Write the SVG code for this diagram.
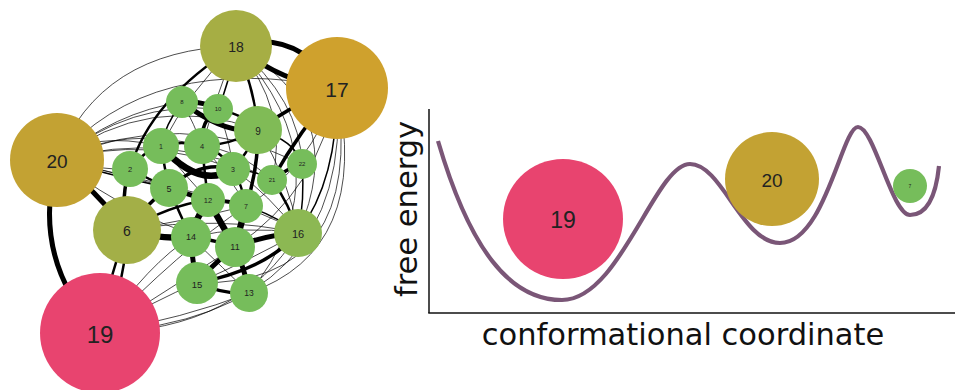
<svg xmlns="http://www.w3.org/2000/svg" width="955" height="390" viewBox="0 0 955 390">
  <style>
    .edge { fill: none; stroke: #000; stroke-linecap: round; }
    .w1 { stroke-width: 0.7; }
    .w2 { stroke-width: 1.5; }
    .w3 { stroke-width: 2.5; }
    .w4 { stroke-width: 3.5; }
    .w5 { stroke-width: 5; }
    .w6 { stroke-width: 6.5; }
    .g { fill: #76bd5b; }
    .lbl { font-family: "Liberation Sans", Arial, sans-serif; fill: #222; text-anchor: middle; dominant-baseline: central; }
    .axis { stroke: #111; stroke-width: 1.5; fill: none; }
    .axtxt { font-family: "DejaVu Sans", sans-serif; font-size: 30.5px; fill: #111; text-anchor: middle; }
  </style>

  <!-- state network: edges -->
  <g id="edges">
    <!-- weak transitions -->
    <path class="edge w1" d="M57,160 Q100,50 236,46"/>
    <path class="edge w1" d="M57,160 Q150,50 337,88"/>
    <path class="edge w1" d="M57,160 Q150,90 258,130"/>
    <path class="edge w1" d="M57,160 Q130,100 218,109"/>
    <path class="edge w1" d="M57,160 Q115,112 182,102"/>
    <path class="edge w1" d="M57,160 Q125,125 202,146"/>
    <path class="edge w1" d="M57,160 Q150,135 233,169"/>
    <path class="edge w1" d="M57,160 Q180,105 302,164"/>
    <path class="edge w1" d="M57,160 Q170,128 272,180"/>
    <path class="edge w1" d="M57,160 Q130,175 208,200"/>
    <path class="edge w1" d="M57,160 Q150,180 246,206"/>
    <path class="edge w1" d="M57,160 Q140,225 235,247"/>
    <path class="edge w1" d="M57,160 Q90,130 161,146"/>
    <path class="edge w1" d="M57,160 Q95,170 130,169"/>
    <path class="edge w1" d="M337,88 Q372,250 249,293"/>
    <path class="edge w1" d="M337,88 Q366,285 197,283"/>
    <path class="edge w1" d="M337,88 Q355,315 100,333"/>
    <path class="edge w1" d="M337,88 Q310,170 246,206"/>
    <path class="edge w1" d="M337,88 Q320,190 235,247"/>
    <path class="edge w1" d="M236,46 Q352,110 298,233"/>
    <path class="edge w1" d="M236,46 Q350,170 249,293"/>
    <path class="edge w1" d="M236,46 Q300,100 302,164"/>
    <path class="edge w1" d="M236,46 Q290,110 272,180"/>
    <path class="edge w1" d="M236,46 Q215,100 202,146"/>
    <path class="edge w1" d="M236,46 Q190,90 161,146"/>
    <path class="edge w1" d="M100,333 Q240,330 298,233"/>
    <path class="edge w1" d="M100,333 Q185,318 249,293"/>
    <path class="edge w1" d="M100,333 Q175,285 235,247"/>
    <path class="edge w1" d="M100,333 Q150,262 191,237"/>
    <path class="edge w1" d="M100,333 Q155,300 197,283"/>
    <path class="edge w1" d="M100,333 Q180,250 246,206"/>
    <path class="edge w1" d="M127,230 Q220,215 298,233"/>
    <path class="edge w1" d="M127,230 Q190,220 246,206"/>
    <path class="edge w1" d="M161,146 Q185,175 208,200"/>
    <path class="edge w1" d="M202,146 Q230,175 246,206"/>
    <path class="edge w1" d="M202,146 Q240,150 272,180"/>
    <path class="edge w1" d="M218,109 Q230,140 233,169"/>
    <path class="edge w1" d="M258,130 Q290,180 298,233"/>
    <path class="edge w1" d="M233,169 Q270,195 298,233"/>
    <path class="edge w1" d="M208,200 Q255,205 298,233"/>
    <path class="edge w1" d="M191,237 Q245,225 298,233"/>
    <path class="edge w1" d="M191,237 Q225,270 249,293"/>
    <path class="edge w1" d="M197,283 Q250,260 298,233"/>
    <path class="edge w1" d="M130,169 Q170,190 208,200"/>
    <path class="edge w1" d="M182,102 Q195,125 202,146"/>

    <!-- moderate transitions -->
    <path class="edge w2" d="M182,102 Q165,125 161,146"/>
    <path class="edge w2" d="M236,46 Q230,80 218,109"/>
    <path class="edge w2" d="M57,160 Q110,175 169,188"/>
    <path class="edge w2" d="M258,130 Q295,140 302,164"/>
    <path class="edge w2" d="M233,169 Q255,170 272,180"/>
    <path class="edge w2" d="M246,206 Q275,215 298,233"/>
    <path class="edge w2" d="M302,164 Q305,200 298,233"/>
    <path class="edge w2" d="M337,88 Q338,180 298,233"/>

    <path class="edge w3" d="M130,169 Q150,100 236,46"/>
    <path class="edge w3" d="M127,230 Q108,280 100,333"/>
    <path class="edge w3" d="M127,230 Q125,290 100,333"/>
    <path class="edge w3" d="M236,46 Q255,90 258,130"/>
    <path class="edge w3" d="M202,146 Q230,145 258,130"/>
    <path class="edge w3" d="M130,169 Q145,150 161,146"/>
    <path class="edge w3" d="M130,169 Q150,180 169,188"/>
    <path class="edge w3" d="M161,146 Q165,170 169,188"/>
    <path class="edge w3" d="M161,146 Q182,140 202,146"/>
    <path class="edge w3" d="M202,146 Q220,150 233,169"/>
    <path class="edge w3" d="M202,146 Q205,175 208,200"/>
    <path class="edge w3" d="M218,109 Q245,115 258,130"/>
    <path class="edge w3" d="M258,130 Q250,150 233,169"/>
    <path class="edge w3" d="M272,180 Q290,205 298,233"/>
    <path class="edge w3" d="M233,169 Q242,185 246,206"/>
    <path class="edge w3" d="M127,230 Q170,205 208,200"/>
    <path class="edge w3" d="M169,188 Q180,215 191,237"/>

    <!-- strong transitions -->
    <path class="edge w4" d="M258,130 Q258,170 246,206"/>
    <path class="edge w4" d="M258,130 Q300,100 337,88"/>
    <path class="edge w4" d="M337,88 Q300,130 272,180"/>
    <path class="edge w4" d="M272,180 Q288,168 302,164"/>
    <path class="edge w4" d="M127,230 Q150,200 169,188"/>
    <path class="edge w4" d="M127,230 Q120,195 130,169"/>
    <path class="edge w4" d="M197,283 Q225,295 249,293"/>
    <path class="edge w4" d="M208,200 Q230,200 246,206"/>
    <path class="edge w4" d="M191,237 Q215,240 235,247"/>
    <path class="edge w4" d="M218,109 Q200,120 202,146"/>
    <path class="edge w4" d="M298,233 Q265,270 197,283"/>
    <path class="edge w4" d="M169,188 Q200,160 233,169"/>

    <path class="edge w5" d="M182,102 Q200,100 218,109"/>
    <path class="edge w5" d="M236,46 Q295,28 337,88"/>
    <path class="edge w5" d="M236,46 Q285,85 337,88"/>
    <path class="edge w5" d="M57,160 Q30,260 100,333"/>
    <path class="edge w5" d="M57,160 Q95,190 127,230"/>
    <path class="edge w5" d="M182,102 Q225,135 258,130"/>
    <path class="edge w5" d="M169,188 Q190,195 208,200"/>
    <path class="edge w5" d="M235,247 Q265,235 298,233"/>
    <path class="edge w5" d="M235,247 Q245,270 249,293"/>
    <path class="edge w5" d="M191,237 Q192,262 197,283"/>
    <path class="edge w5" d="M197,283 Q215,262 235,247"/>

    <path class="edge w6" d="M161,146 Q200,190 233,169"/>
    <path class="edge w6" d="M127,230 Q160,240 191,237"/>
    <path class="edge w6" d="M208,200 Q222,225 235,247"/>
    <path class="edge w6" d="M208,200 Q195,220 191,237"/>
    <path class="edge w6" d="M246,206 Q240,228 235,247"/>
  </g>

  <!-- state network: nodes -->
  <g id="node-18"><circle cx="236" cy="46" r="36" fill="#a6ae44"/><text class="lbl" x="236" y="47" font-size="14">18</text></g>
  <g id="node-17"><circle cx="337" cy="88" r="51" fill="#cfa12d"/><text class="lbl" x="337" y="89" font-size="21">17</text></g>
  <g id="node-20"><circle cx="57" cy="160" r="47" fill="#c3a233"/><text class="lbl" x="57" y="161" font-size="19">20</text></g>
  <g id="node-19"><circle cx="100" cy="333" r="60" fill="#e8446f"/><text class="lbl" x="100" y="334" font-size="24">19</text></g>
  <g id="node-6"><circle cx="127" cy="230" r="34" fill="#a3af47"/><text class="lbl" x="127" y="231" font-size="14">6</text></g>
  <g id="node-16"><circle cx="298" cy="233" r="24" fill="#8cb853"/><text class="lbl" x="298" y="234" font-size="11">16</text></g>
  <g id="node-9"><circle cx="258" cy="130" r="24" fill="#80bb56"/><text class="lbl" x="258" y="131" font-size="10">9</text></g>
  <g id="node-8"><circle class="g" cx="182" cy="102" r="16"/><text class="lbl" x="182" y="102" font-size="6">8</text></g>
  <g id="node-10"><circle class="g" cx="218" cy="109" r="15"/><text class="lbl" x="218" y="109" font-size="6">10</text></g>
  <g id="node-1"><circle class="g" cx="161" cy="146" r="18"/><text class="lbl" x="161" y="146" font-size="7">1</text></g>
  <g id="node-4"><circle class="g" cx="202" cy="146" r="18"/><text class="lbl" x="202" y="146" font-size="7.5">4</text></g>
  <g id="node-2"><circle class="g" cx="130" cy="169" r="18"/><text class="lbl" x="130" y="169" font-size="7.5">2</text></g>
  <g id="node-3"><circle class="g" cx="233" cy="169" r="17"/><text class="lbl" x="233" y="169" font-size="7">3</text></g>
  <g id="node-5"><circle class="g" cx="169" cy="188" r="19"/><text class="lbl" x="169" y="189" font-size="9">5</text></g>
  <g id="node-21"><circle class="g" cx="272" cy="180" r="15"/><text class="lbl" x="272" y="180" font-size="6">21</text></g>
  <g id="node-22"><circle class="g" cx="302" cy="164" r="15"/><text class="lbl" x="302" y="164" font-size="6">22</text></g>
  <g id="node-12"><circle class="g" cx="208" cy="200" r="17"/><text class="lbl" x="208" y="200" font-size="7.5">12</text></g>
  <g id="node-7"><circle class="g" cx="246" cy="206" r="17"/><text class="lbl" x="246" y="206" font-size="7">7</text></g>
  <g id="node-14"><circle class="g" cx="191" cy="237" r="20"/><text class="lbl" x="191" y="237" font-size="9">14</text></g>
  <g id="node-11"><circle class="g" cx="235" cy="247" r="20"/><text class="lbl" x="235" y="247" font-size="9">11</text></g>
  <g id="node-15"><circle class="g" cx="197" cy="283" r="21"/><text class="lbl" x="197" y="284" font-size="9.5">15</text></g>
  <g id="node-13"><circle class="g" cx="249" cy="293" r="19"/><text class="lbl" x="249" y="293" font-size="8.5">13</text></g>

  <!-- free energy landscape -->
  <g id="landscape">
    <line class="axis" x1="429" y1="109" x2="429" y2="313"/>
    <line class="axis" x1="428.25" y1="313" x2="955" y2="313"/>
    <text class="axtxt" transform="translate(417,209) rotate(-90)">free energy</text>
    <text class="axtxt" x="683" y="345">conformational coordinate</text>
    <path d="M438,141 C470,250 510,300 562,300 C620,300 655,164 690,164 C722,164 742,243 780,243 C825,243 842,127 858,127 C874,127 892,215 910,215 C928,215 936,195 939,166" fill="none" stroke="#7a5677" stroke-width="4.2" stroke-linecap="butt"/>
    <g id="basin-19"><circle cx="563" cy="219" r="60" fill="#e8446f"/><text class="lbl" x="563" y="220" font-size="23">19</text></g>
    <g id="basin-20"><circle cx="772" cy="179" r="47" fill="#c3a233"/><text class="lbl" x="772" y="180" font-size="19">20</text></g>
    <g id="basin-7"><circle class="g" cx="910" cy="186" r="17"/><text class="lbl" x="910" y="186" font-size="5">7</text></g>
  </g>
</svg>
